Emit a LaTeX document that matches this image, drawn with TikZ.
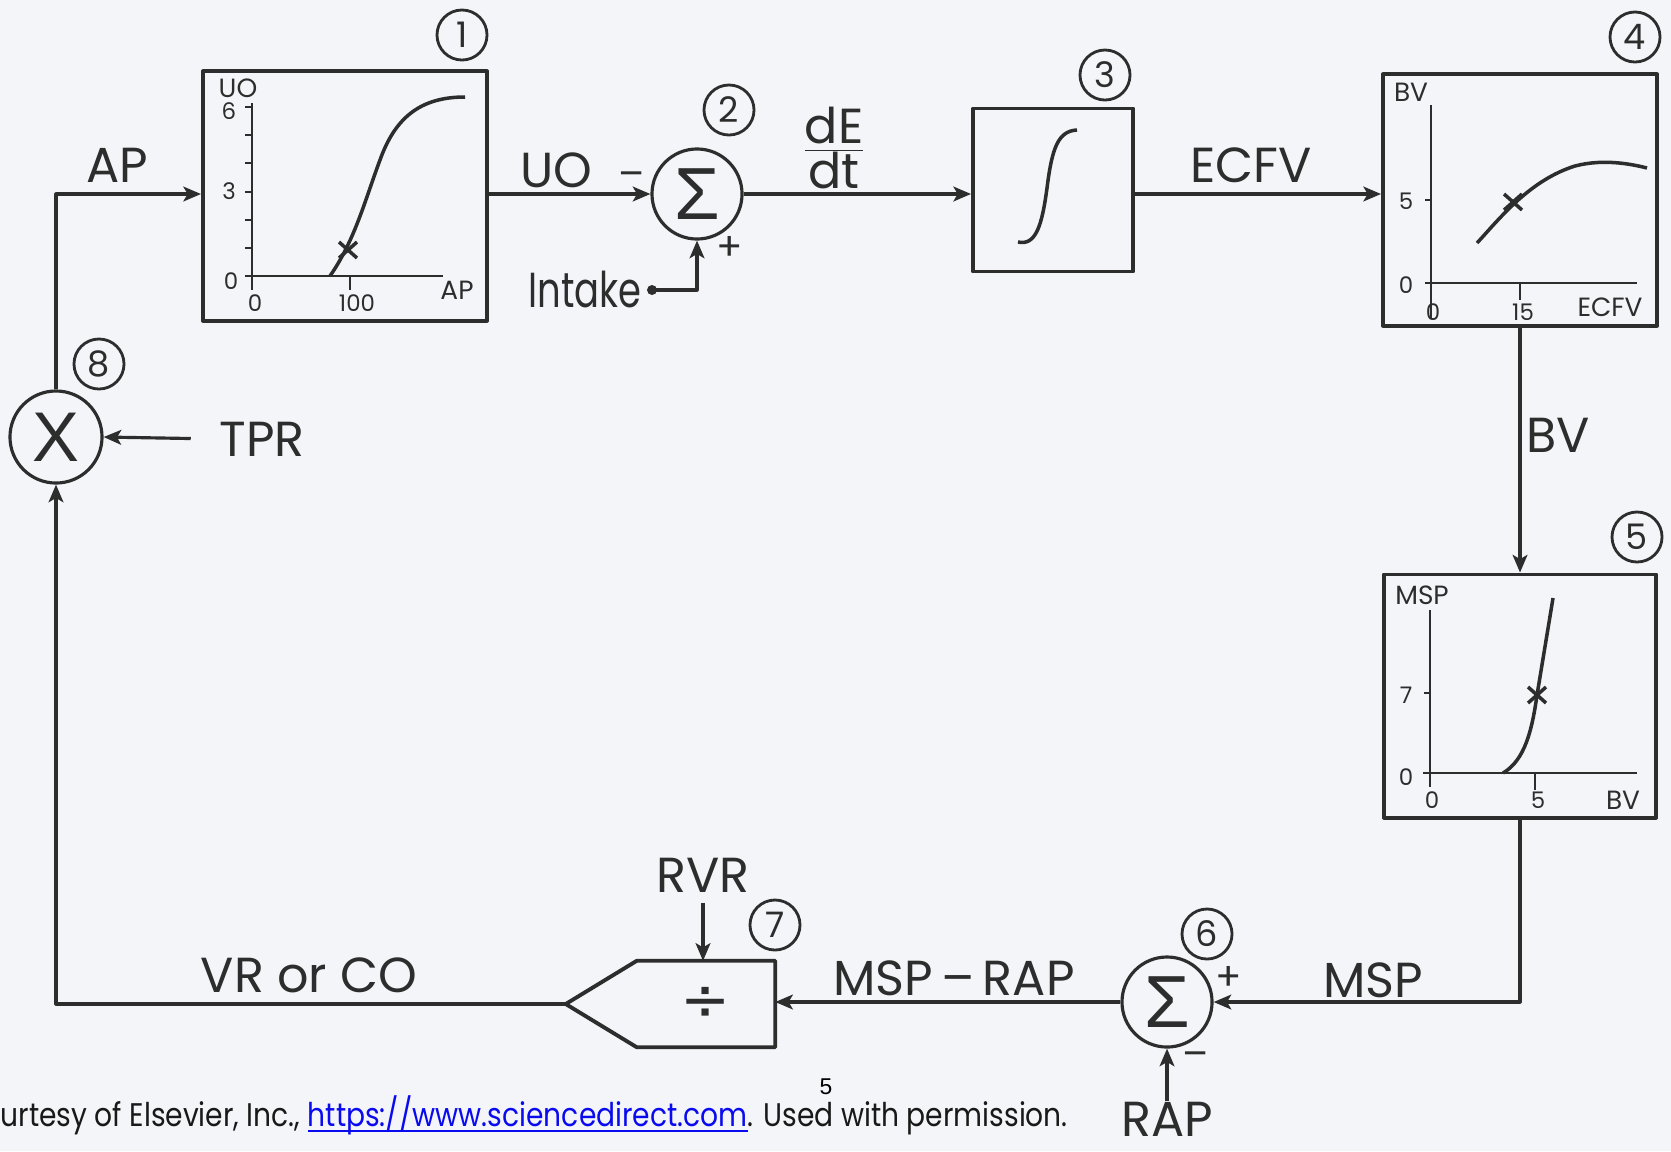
\documentclass[tikz,border=0pt]{standalone}
\usepackage{fontspec}
\setmainfont{Poppins}
\newfontfamily\symfont{Liberation Sans}
\newfontfamily\divfont{DejaVu Sans}
\newfontfamily\capfont[FakeStretch=0.86]{Poppins}
\newfontfamily\narrowfont[FakeStretch=0.75]{Poppins}
\newfontfamily\pgfont{Liberation Sans}
\usetikzlibrary{arrows.meta, positioning}
\definecolor{paper}{RGB}{243,245,248}
\definecolor{ink}{RGB}{45,45,45}
\definecolor{linkblue}{RGB}{10,10,240}
\newcommand\bigfont{\fontsize{14}{16}\selectfont}
\newcommand\axfont{\fontsize{7.5}{8}\selectfont}
\newcommand\tickfont{\fontsize{6.5}{7}\selectfont}
\newcommand\linkline[1]{\underline{\smash{#1}}}

\begin{document}
\begin{tikzpicture}[x=0.01cm, y=-0.01cm, line join=round,
  sig/.style={draw=ink, line width=0.9pt, -{Stealth[length=5pt, width=4.2pt, inset=1.2pt]}},
  blk/.style={draw=ink, line width=1.1pt, inner sep=0pt},
  summ/.style={circle, draw=ink, line width=0.9pt, minimum size=0.9cm, inner sep=0pt, text=ink},
  numtag/.style={circle, draw=ink, line width=0.8pt, minimum size=0.5cm, inner sep=0pt, text=ink, font=\fontsize{10}{10}\selectfont},
  lbl/.style={text=ink, font=\bigfont, inner sep=0pt},
  sgn/.style={text=ink, font=\fontsize{11}{11}\selectfont, inner sep=0pt},
  ax/.style={draw=ink, line width=0.6pt},
  crv/.style={draw=ink, line width=1pt},
  axlbl/.style={text=ink, font=\axfont, inner sep=0pt},
  ticklbl/.style={text=ink, font=\tickfont, inner sep=0pt}]
\fill[paper] (0,0) rectangle (1671,1151);
\useasboundingbox (0,0) rectangle (1671,1151);

% blocks
\node[blk, minimum width=2.84cm, minimum height=2.49cm] (uo) at (345,196) {};
\node[blk, minimum width=1.6cm, minimum height=1.63cm] (integ) at (1053,190) {};
\node[blk, minimum width=2.74cm, minimum height=2.51cm] (bv) at (1520,200) {};
\node[blk, minimum width=2.72cm, minimum height=2.43cm] (msp) at (1520,696) {};
\node[summ, font=\symfont\fontsize{21}{21}\selectfont] (sum2) at (697,194) {Σ};
\node[summ, font=\symfont\fontsize{21}{21}\selectfont] (sum6) at (1167,1002) {Σ};
\node[summ, minimum size=0.92cm, font=\symfont\fontsize{20}{20}\selectfont] (mult) at (56,437) {X};
\node[inner sep=0pt, minimum width=1.37cm, minimum height=0.85cm, text=ink, font=\divfont\fontsize{17}{17}\selectfont] (div) at (706,1004) {÷};
\coordinate (divtip) at ([xshift=-0.71cm]div.west);
\draw[ink, line width=1.1pt] (div.north west) -- (div.north east) -- (div.south east) -- (div.south west) -- (divtip) -- cycle;

\node[numtag] (t1) at (462,35) {1};
\node[numtag] (t2) at (729,110) {2};
\node[numtag] (t3) at (1105,75) {3};
\node[numtag] (t4) at (1635,37) {4};
\node[numtag] (t5) at (1637,537) {5};
\node[numtag] (t6) at (1207,934) {6};
\node[numtag] (t7) at (775,925) {7};
\node[numtag] (t8) at (99,364) {8};

% signal names
\node[lbl] (aplbl) at (117,165) {AP};
\node[lbl] (uolbl) at (556,170) {UO};
\node[lbl] (rate) at (834,148) {$\frac{\mbox{dE}}{\mbox{dt}}$};
\node[lbl] (ecfvlbl) at (1251,165) {ECFV};
\node[lbl] (bvlbl) at (1558,435) {BV};
\node[lbl] (msplbl) at (1373,980) {MSP};
\node[lbl] (difflbl) at (954,978) {MSP\,–\,RAP};
\node[lbl] (vrlbl) at (309,975) {VR or CO};
\node[lbl] (tpr) at (262,439) {TPR};
\node[lbl, font=\narrowfont\bigfont] (intake) at (585,289) {Intake};
\node[lbl] (rap) at (1167,1119) {RAP};
\node[lbl] (rvr) at (703,875) {RVR};
\node[sgn] (s2m) at (632,180) {–};
\node[sgn] (s2p) at (730,248) {+};
\node[sgn] (s6p) at (1229,978) {+};
\node[sgn] (s6m) at (1196,1060) {–};
\coordinate (dot) at (652,290);
\fill[ink] (dot) circle[radius=0.05cm];

% connectors
\draw[sig] (mult.north) |- (uo.west |- sum2);
\draw[sig] (sum2 -| uo.east) -- (sum2.west);
\draw[sig] (sum2.east) -- (sum2 -| integ.west);
\draw[sig] (sum2 -| integ.east) -- (sum2 -| bv.west);
\draw[sig] (bv.south) -- (msp.north);
\draw[sig] (msp.south) |- (sum6.east);
\draw[sig] (sum6.west) -- (sum6 -| div.east);
\draw[sig] (divtip) -| (mult.south);
\draw[sig, shorten <=0.28cm] (tpr.west) -- (mult.east);
\draw[sig] (dot) -| (sum2.south);
\draw[sig] (rap.north) -- (sum6.south);
\draw[sig, shorten <=0.1cm] (rvr.south) -- (rvr.south |- div.north);

% integrator
\draw[crv] (1018,242) .. controls (1036,246) and (1042,225) .. (1047,188) .. controls (1052,148) and (1058,131) .. (1077,130);

% graph 1
\draw[ax] (252,103) -- (252,290);
\draw[ax] (245,276) -- (443,276);
\draw[ax] (350,276) -- (350,290);
\foreach \ty in {107,135,163,192,220,248} \draw[ax] (245,\ty) -- (252,\ty);
\node[axlbl] (uoax) at (238,88) {UO};
\node[ticklbl] (uo6) at (229,111) {6};
\node[ticklbl] (uo3) at (229,191) {3};
\node[ticklbl] (uo0) at (231,281) {0};
\node[ticklbl] (ap0) at (255,303) {0};
\node[ticklbl] (ap100) at (357,303) {100};
\node[axlbl] (apax) at (457,290) {AP};
\draw[crv] (330,276) .. controls (355,240) and (365,200) .. (380,160) .. controls (395,118) and (420,97) .. (465,97);

% graph 4
\draw[ax] (1431,105) -- (1431,318);
\draw[ax] (1425,283) -- (1637,283);
\draw[ax] (1425,200) -- (1431,200);
\draw[ax] (1520,283) -- (1520,300);
\node[axlbl] (bvax) at (1411,92) {BV};
\node[ticklbl] (bv5) at (1406,201) {5};
\node[ticklbl] (bv0) at (1406,285) {0};
\node[ticklbl] (ecfv0) at (1433,312) {0};
\node[ticklbl] (ecfv15) at (1523,312) {15};
\node[axlbl] (ecfvax) at (1610,307) {ECFV};
\draw[crv] (1477,243) .. controls (1500,218) and (1530,180) .. (1575,166) .. controls (1605,158) and (1635,165) .. (1647,168);

% graph 5
\draw[ax] (1430,610) -- (1430,787);
\draw[ax] (1423,773) -- (1637,773);
\draw[ax] (1424,693) -- (1430,693);
\draw[ax] (1535,773) -- (1535,790);
\node[axlbl] (mspax) at (1422,595) {MSP};
\node[ticklbl] (msp7) at (1406,695) {7};
\node[ticklbl] (msp0) at (1406,777) {0};
\node[ticklbl] (bvx0) at (1432,800) {0};
\node[ticklbl] (bvx5) at (1538,800) {5};
\node[axlbl] (bvxax) at (1623,800) {BV};
\draw[crv] (1503,773) .. controls (1525,760) and (1532,730) .. (1537,695) -- (1553,598);

\foreach \sx/\sy in {348/250, 1513/202, 1537/695}
  \draw[crv] ({\sx-9},{\sy-8}) -- ({\sx+9},{\sy+8}) ({\sx-9},{\sy+8}) -- ({\sx+9},{\sy-8});

% footer
\node[font=\pgfont\fontsize{6.5}{7}\selectfont, inner sep=0pt] (pgno) at (826,1087) {5};
\node[anchor=west, inner sep=0pt, text=black!90, font=\capfont\fontsize{9.3}{10}\selectfont] (credit) at (0,1118) {urtesy of Elsevier, Inc., \textcolor{linkblue}{\linkline{https://www.sciencedirect.com}}. Used with permission.};
\end{tikzpicture}
\end{document}
